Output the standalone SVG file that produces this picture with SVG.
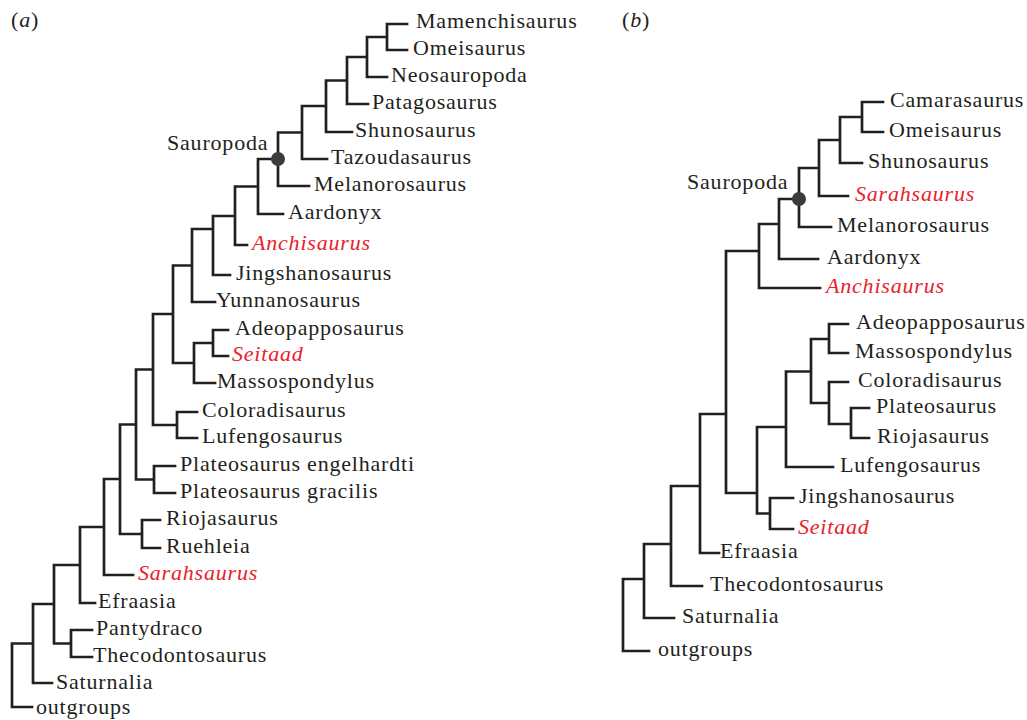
<svg xmlns="http://www.w3.org/2000/svg" width="1027" height="720" viewBox="0 0 1027 720">
<style>
text{font-family:"Liberation Serif","Times New Roman",serif;font-size:22px;fill:#231f20;letter-spacing:0.8px}
.r{fill:#e8212b;font-style:italic}
.e{fill:none;stroke:#231f20;stroke-width:2.7;stroke-linecap:square;stroke-linejoin:miter}
.dot{fill:#3b3b3d}
</style>
<rect width="1027" height="720" fill="#fff"/>
<text x="11" y="27">(<tspan font-style="italic">a</tspan>)</text>
<text x="622" y="27">(<tspan font-style="italic">b</tspan>)</text>
<g id="connectors">
<path class="e" d="M407,24H387V50H407 M387,37H367V77H387 M367,57H347V104H368 M347,80.5H326V132H352 M326,106H302V159H327 M302,132.5H278V186H309 M278,159H258V214H283 M258,186.5H235V245H247 M235,216H213V275H230 M213,229H192V302H215 M228,330H213V356H228 M213,343H194V383H215 M192,265.5H173V363H194 M197,412H177V438H197 M173,314H153V425H177 M175,466H154V493H175 M153,369.5H136V479.5H154 M160,520H142V548H160 M136,424.5H120V534H142 M120,479H104V575H133 M104,527H80V603H95 M92,630H71V657H92 M80,565H54V643.5H71 M54,604H33V683H52 M33,643.5H12V707H32"/>
<path class="e" d="M883,102H862V132H883 M862,117H840V163H862 M840,140H819V196H848 M819,168H799V227H831 M799,199H779V259H818 M779,224H759V288H820 M848,324H829V353H848 M869,408H851V438H869 M848,382H829V424H851 M829,339H811V403H829 M811,371.5H786V467H833 M793,498H770V529H793 M786,427H757V513.5H770 M759,251H726V493H757 M726,414H700V553H719 M700,486H671V586H702 M671,544H644V618H674 M644,579H623V651H649"/>
</g>
<g id="sauropoda-a"><circle class="dot" cx="278" cy="159" r="7"/><text x="167" y="150">Sauropoda</text></g>
<g id="sauropoda-b"><circle class="dot" cx="799" cy="199" r="7"/><text x="687" y="189">Sauropoda</text></g>
<g id="tree-a">
<g id="a-mamenchisaurus"><text x="416" y="28">Mamenchisaurus</text></g>
<g id="a-omeisaurus"><text x="413" y="55">Omeisaurus</text></g>
<g id="a-neosauropoda"><text x="391" y="82">Neosauropoda</text></g>
<g id="a-patagosaurus"><text x="372" y="109">Patagosaurus</text></g>
<g id="a-shunosaurus"><text x="355" y="137">Shunosaurus</text></g>
<g id="a-tazoudasaurus"><text x="331" y="164">Tazoudasaurus</text></g>
<g id="a-melanorosaurus"><text x="314" y="191">Melanorosaurus</text></g>
<g id="a-aardonyx"><text x="288" y="219">Aardonyx</text></g>
<g id="a-anchisaurus"><text class="r" x="252" y="250">Anchisaurus</text></g>
<g id="a-jingshanosaurus"><text x="236" y="280">Jingshanosaurus</text></g>
<g id="a-yunnanosaurus"><text x="216" y="307">Yunnanosaurus</text></g>
<g id="a-adeopapposaurus"><text x="235" y="335">Adeopapposaurus</text></g>
<g id="a-seitaad"><text class="r" x="232" y="361">Seitaad</text></g>
<g id="a-massospondylus"><text x="217" y="388">Massospondylus</text></g>
<g id="a-coloradisaurus"><text x="202" y="417">Coloradisaurus</text></g>
<g id="a-lufengosaurus"><text x="202" y="443">Lufengosaurus</text></g>
<g id="a-plateosaurus-engelhardti"><text x="180" y="471">Plateosaurus engelhardti</text></g>
<g id="a-plateosaurus-gracilis"><text x="180" y="498">Plateosaurus gracilis</text></g>
<g id="a-riojasaurus"><text x="166" y="525">Riojasaurus</text></g>
<g id="a-ruehleia"><text x="166" y="553">Ruehleia</text></g>
<g id="a-sarahsaurus"><text class="r" x="138" y="580">Sarahsaurus</text></g>
<g id="a-efraasia"><text x="98" y="608">Efraasia</text></g>
<g id="a-pantydraco"><text x="96" y="635">Pantydraco</text></g>
<g id="a-thecodontosaurus"><text x="93" y="662">Thecodontosaurus</text></g>
<g id="a-saturnalia"><text x="56" y="689">Saturnalia</text></g>
<g id="a-outgroups"><text x="36" y="714">outgroups</text></g>
</g>
<g id="tree-b">
<g id="b-camarasaurus"><text x="890" y="107">Camarasaurus</text></g>
<g id="b-omeisaurus"><text x="889" y="137">Omeisaurus</text></g>
<g id="b-shunosaurus"><text x="868" y="168">Shunosaurus</text></g>
<g id="b-sarahsaurus"><text class="r" x="855" y="201">Sarahsaurus</text></g>
<g id="b-melanorosaurus"><text x="837" y="232">Melanorosaurus</text></g>
<g id="b-aardonyx"><text x="827" y="264">Aardonyx</text></g>
<g id="b-anchisaurus"><text class="r" x="826" y="293">Anchisaurus</text></g>
<g id="b-adeopapposaurus"><text x="856" y="329">Adeopapposaurus</text></g>
<g id="b-massospondylus"><text x="855" y="358">Massospondylus</text></g>
<g id="b-coloradisaurus"><text x="858" y="387">Coloradisaurus</text></g>
<g id="b-plateosaurus"><text x="876" y="413">Plateosaurus</text></g>
<g id="b-riojasaurus"><text x="877" y="443">Riojasaurus</text></g>
<g id="b-lufengosaurus"><text x="840" y="472">Lufengosaurus</text></g>
<g id="b-jingshanosaurus"><text x="799" y="503">Jingshanosaurus</text></g>
<g id="b-seitaad"><text class="r" x="798" y="534">Seitaad</text></g>
<g id="b-efraasia"><text x="720" y="558">Efraasia</text></g>
<g id="b-thecodontosaurus"><text x="710" y="591">Thecodontosaurus</text></g>
<g id="b-saturnalia"><text x="682" y="623">Saturnalia</text></g>
<g id="b-outgroups"><text x="658" y="656">outgroups</text></g>
</g>
</svg>
